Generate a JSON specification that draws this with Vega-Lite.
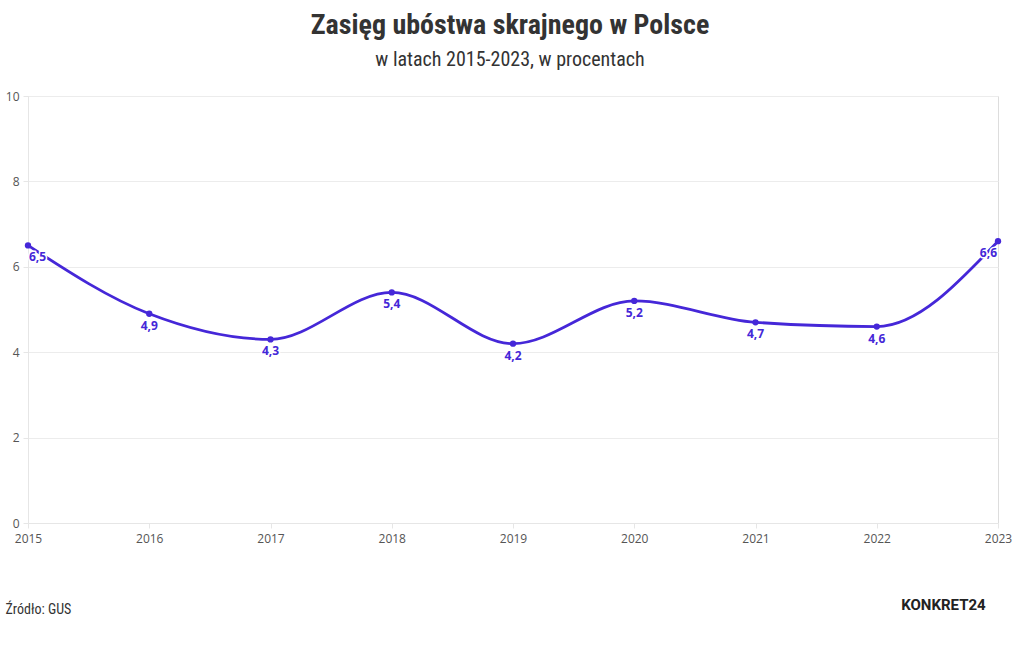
{
  "$schema": "https://vega.github.io/schema/vega-lite/v6.json",
  "autosize": "none",
  "width": 970,
  "height": 427,
  "padding": {"left": 28, "top": 96, "right": 22, "bottom": 127},
  "background": "white",
  "title": {
    "text": "Zasięg ubóstwa skrajnego w Polsce",
    "subtitle": "w latach 2015-2023, w procentach",
    "anchor": "middle",
    "frame": "group",
    "dx": -3,
    "offset": 20,
    "font": "Roboto Condensed, Liberation Sans Narrow, DejaVu Sans Condensed, Roboto",
    "fontSize": 28,
    "fontWeight": "bold",
    "color": "#333333",
    "subtitleFont": "Roboto Condensed, Liberation Sans Narrow, DejaVu Sans Condensed, Roboto",
    "subtitleFontSize": 20,
    "subtitleColor": "#333333",
    "subtitlePadding": 10
  },
  "datasets": {
    "main": [
      {"year": 2015, "value": 6.5, "label": "6,5", "pos": "left"},
      {"year": 2016, "value": 4.9, "label": "4,9", "pos": "mid"},
      {"year": 2017, "value": 4.3, "label": "4,3", "pos": "mid"},
      {"year": 2018, "value": 5.4, "label": "5,4", "pos": "mid"},
      {"year": 2019, "value": 4.2, "label": "4,2", "pos": "mid"},
      {"year": 2020, "value": 5.2, "label": "5,2", "pos": "mid"},
      {"year": 2021, "value": 4.7, "label": "4,7", "pos": "mid"},
      {"year": 2022, "value": 4.6, "label": "4,6", "pos": "mid"},
      {"year": 2023, "value": 6.6, "label": "6,6", "pos": "right"}
    ],
    "logo": [
      {"year": 2022.55, "value": -1.92, "label": "KONKRET24"}
    ]
  },
  "data": {"name": "main"},
  "encoding": {
    "x": {
      "field": "year",
      "type": "quantitative",
      "scale": {"domain": [2015, 2023], "nice": false, "zero": false},
      "axis": {
        "values": [2015, 2016, 2017, 2018, 2019, 2020, 2021, 2022, 2023],
        "format": "d",
        "grid": false,
        "domainColor": "#e6e6e6",
        "tickColor": "#e6e6e6",
        "tickSize": 5,
        "labelPadding": 5,
        "labelFont": "Open Sans",
        "labelFontSize": 12,
        "labelColor": "#555555",
        "labelFlush": false,
        "title": "Źródło: GUS",
        "titleFont": "Roboto Condensed, Liberation Sans Narrow, DejaVu Sans Condensed, Roboto",
        "titleFontSize": 14,
        "titleFontWeight": "normal",
        "titleColor": "#333333",
        "titleAnchor": "start",
        "titleAlign": "left",
        "titleBaseline": "alphabetic",
        "titleX": -23,
        "titleY": 90
      }
    },
    "y": {
      "field": "value",
      "type": "quantitative",
      "scale": {"domain": [0, 10], "nice": false},
      "axis": {
        "values": [0, 2, 4, 6, 8, 10],
        "title": null,
        "grid": true,
        "gridColor": "#ececec",
        "domainColor": "#e6e6e6",
        "tickColor": "#e6e6e6",
        "tickSize": 5,
        "labelPadding": 4,
        "labelFont": "Open Sans",
        "labelFontSize": 12,
        "labelColor": "#555555"
      }
    }
  },
  "layer": [
    {
      "mark": {"type": "line", "interpolate": "monotone", "color": "#4527d8", "strokeWidth": 2.8}
    },
    {
      "mark": {"type": "circle", "color": "#4527d8", "opacity": 1, "size": 40}
    },
    {
      "transform": [{"filter": "datum.pos == 'mid'"}],
      "mark": {"type": "text", "font": "Open Sans", "fontSize": 12, "fontWeight": "bold", "align": "center", "baseline": "middle", "dy": 12, "stroke": "white", "strokeWidth": 3, "strokeJoin": "round", "fill": "white"},
      "encoding": {"text": {"field": "label"}}
    },
    {
      "transform": [{"filter": "datum.pos == 'left'"}],
      "mark": {"type": "text", "font": "Open Sans", "fontSize": 12, "fontWeight": "bold", "align": "left", "baseline": "middle", "dx": 1, "dy": 12, "stroke": "white", "strokeWidth": 3, "strokeJoin": "round", "fill": "white"},
      "encoding": {"text": {"field": "label"}}
    },
    {
      "transform": [{"filter": "datum.pos == 'right'"}],
      "mark": {"type": "text", "font": "Open Sans", "fontSize": 12, "fontWeight": "bold", "align": "right", "baseline": "middle", "dx": -1, "dy": 12, "stroke": "white", "strokeWidth": 3, "strokeJoin": "round", "fill": "white"},
      "encoding": {"text": {"field": "label"}}
    },
    {
      "transform": [{"filter": "datum.pos == 'mid'"}],
      "mark": {"type": "text", "font": "Open Sans", "fontSize": 12, "fontWeight": "bold", "align": "center", "baseline": "middle", "dy": 12, "color": "#4527d8"},
      "encoding": {"text": {"field": "label"}}
    },
    {
      "transform": [{"filter": "datum.pos == 'left'"}],
      "mark": {"type": "text", "font": "Open Sans", "fontSize": 12, "fontWeight": "bold", "align": "left", "baseline": "middle", "dx": 1, "dy": 12, "color": "#4527d8"},
      "encoding": {"text": {"field": "label"}}
    },
    {
      "transform": [{"filter": "datum.pos == 'right'"}],
      "mark": {"type": "text", "font": "Open Sans", "fontSize": 12, "fontWeight": "bold", "align": "right", "baseline": "middle", "dx": -1, "dy": 12, "color": "#4527d8"},
      "encoding": {"text": {"field": "label"}}
    },
    {
      "data": {"name": "logo"},
      "mark": {"type": "text", "font": "Roboto", "fontSize": 15, "fontWeight": "bold", "align": "center", "baseline": "middle", "fill": "#222222"},
      "encoding": {
        "text": {"field": "label"}
      }
    }
  ]
}
